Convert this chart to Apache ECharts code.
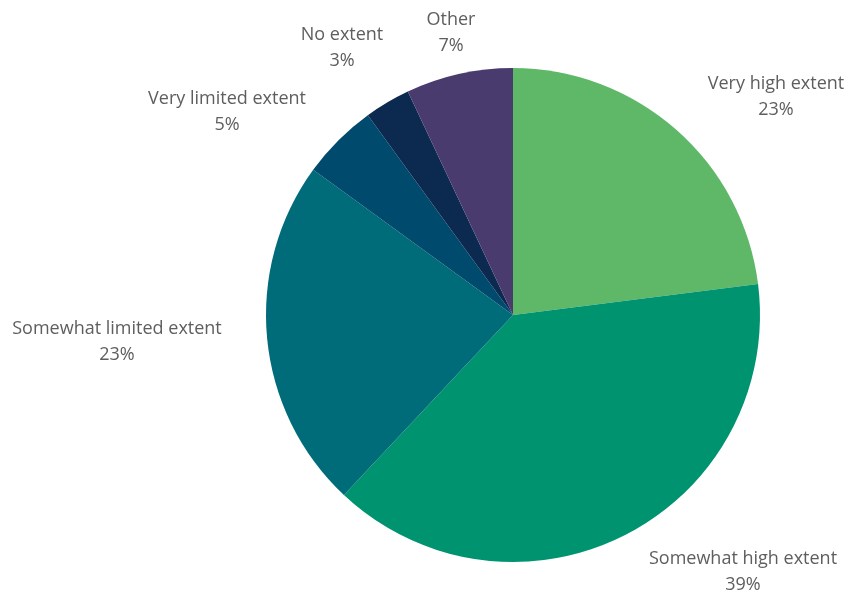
<!DOCTYPE html>
<html>
<head>
<meta charset="utf-8">
<script src="https://cdn.jsdelivr.net/npm/echarts@6/dist/echarts.min.js"></script>
<style>
  html, body { margin: 0; padding: 0; background: #ffffff; }
  #chart { width: 852px; height: 599px; }
</style>
</head>
<body>
<div id="chart"></div>
<script>
// Survey responses, clockwise from 12 o'clock
const categories = [
  'Very high extent',
  'Somewhat high extent',
  'Somewhat limited extent',
  'Very limited extent',
  'No extent',
  'Other'
];
const shares = [23, 39, 23, 5, 3, 7];

// Slice colours, in the same order as the categories
const sliceColors = ['#5fb768', '#00936f', '#006b79', '#004a6d', '#0c2a50', '#4a3b6f'];

// Label anchor points (centre of each two-line label block)
const labelAnchors = [
  [776, 97],
  [743, 572],
  [117, 342],
  [227, 112],
  [342, 48],
  [451, 33]
];

const chart = echarts.init(document.getElementById('chart'));

chart.setOption({
  backgroundColor: '#ffffff',
  animation: false,
  series: [{
    type: 'pie',
    center: [513, 315],
    radius: 247,
    startAngle: 90,
    clockwise: true,
    avoidLabelOverlap: false,
    data: categories.map((name, i) => ({
      name: name,
      value: shares[i],
      itemStyle: { color: sliceColors[i] }
    })),
    label: {
      show: true,
      position: 'outside',
      formatter: '{b}\n{c}%',
      fontFamily: '"Open Sans", sans-serif',
      fontSize: 18,
      lineHeight: 26,
      color: '#5e5e5e',
      align: 'center',
      verticalAlign: 'middle'
    },
    labelLine: { show: false },
    labelLayout: function (params) {
      const p = labelAnchors[params.dataIndex];
      return {
        x: p[0],
        y: p[1],
        align: 'center',
        verticalAlign: 'middle'
      };
    },
    emphasis: { disabled: true }
  }]
});
</script>
</body>
</html>
